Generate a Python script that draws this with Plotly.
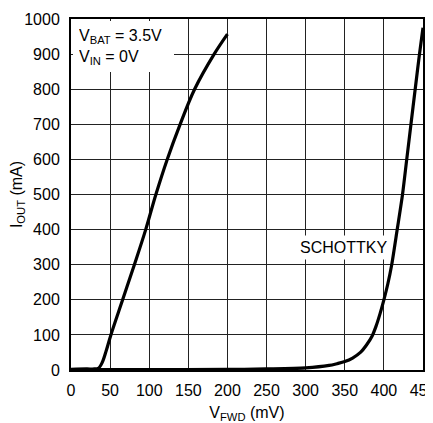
import plotly.graph_objects as go

# Left curve (non-Schottky path)
fet_v = [0, 20, 30, 35, 40, 45, 51, 66, 81, 95.5, 108.5, 123, 139.5, 158, 183, 200]
fet_i = [2, 3, 3, 5, 22, 55, 100, 200, 300, 400, 500, 600, 700, 800, 900, 957]

# Schottky curve
sch_v = [0, 100, 200, 250, 300, 330, 340, 350, 360, 370, 378, 385, 390, 395, 400, 405, 410, 417, 423.8, 429.2, 434.6, 440, 445.5, 450]
sch_i = [1, 1, 1.5, 3, 6, 13, 18, 24, 34, 50, 72, 97, 125, 160, 200, 245, 300, 400, 500, 600, 700, 800, 900, 975]

x_ticks = [0, 50, 100, 150, 200, 250, 300, 350, 400, 450]
y_ticks = [0, 100, 200, 300, 400, 500, 600, 700, 800, 900, 1000]

FONT = "Liberation Sans, Arial, sans-serif"

fig = go.Figure()
fig.add_trace(go.Scatter(x=sch_v, y=sch_i, mode="lines",
                         line=dict(color="black", width=3.2, shape="spline", smoothing=0.8),
                         showlegend=False, hoverinfo="skip"))
fig.add_trace(go.Scatter(x=fet_v, y=fet_i, mode="lines",
                         line=dict(color="black", width=3.2, shape="spline", smoothing=1.0),
                         showlegend=False, hoverinfo="skip"))

fig.update_layout(
    width=425, height=415,
    margin=dict(l=63, r=10, t=11, b=53),
    paper_bgcolor="white", plot_bgcolor="white",
    font=dict(family=FONT, size=16, color="black"),
    showlegend=False,
)
fig.update_xaxes(
    range=[0, 450], tickvals=x_ticks, ticktext=[str(v) for v in x_ticks],
    showgrid=True, gridcolor="#222", gridwidth=1,
    showline=True, linecolor="black", linewidth=2, mirror=True,
    zeroline=False, ticks="", ticklabelstandoff=5, ticklabeloverflow="allow",
    title=dict(text="V<sub>FWD</sub> (mV)", standoff=15, font=dict(size=16)),
    automargin=False,
)
fig.update_yaxes(
    range=[0, 1000], tickvals=y_ticks, ticktext=[str(v) for v in y_ticks],
    showgrid=True, gridcolor="#222", gridwidth=1,
    showline=True, linecolor="black", linewidth=2, mirror=True,
    zeroline=False, ticks="", ticklabelstandoff=6,
    title=dict(text="I<sub>OUT</sub> (mA)", standoff=3, font=dict(size=16)),
    automargin=False,
)

fig.add_annotation(
    xref="paper", yref="paper", x=0, y=1, xanchor="left", yanchor="top",
    xshift=2, yshift=-2,
    text="V<sub>BAT</sub> = 3.5V<br>V<sub>IN</sub> = 0V",
    showarrow=False, align="left", valign="top",
    bgcolor="white", borderpad=6, borderwidth=0,
    width=89, height=39,
    font=dict(size=16, family=FONT, color="black"),
)
fig.add_annotation(
    x=348, y=348, xref="x", yref="y",
    text="SCHOTTKY", showarrow=False,
    bgcolor="white", borderpad=3,
    font=dict(size=16, family=FONT, color="black"),
)

fig.write_html("out.html")
